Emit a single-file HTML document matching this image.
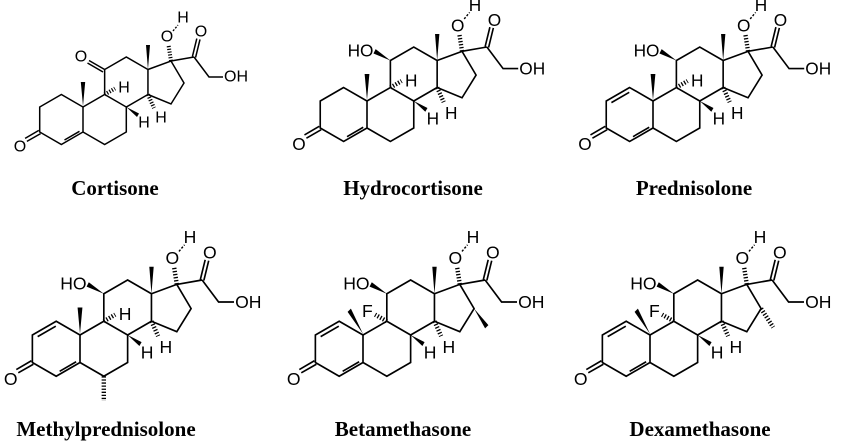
<!DOCTYPE html>
<html><head><meta charset="utf-8"><style>
html,body{margin:0;padding:0;background:#fff}
svg{display:block}
.b{fill:none;stroke:#000;stroke-width:1.5;stroke-linejoin:miter}
.h{stroke:#000;stroke-width:4;stroke-dasharray:1.2 1.6;fill:none}
.t{font-family:"Liberation Sans",sans-serif;font-size:16px;fill:#000;dominant-baseline:central}
.lab{font-family:"Liberation Serif",serif;font-weight:bold;font-size:21px;fill:#000;text-anchor:middle}
</style></head><body>
<svg width="850" height="442" viewBox="0 0 850 442" xmlns="http://www.w3.org/2000/svg">
<defs>
<g id="core">
<path class="b" d="M-21.65,-12.5 L-43.3,0 L-43.3,25 L-21.65,37.5 L0,25 L0,0 Z"/>
<path class="b" d="M0,25 L21.65,37.5 L43.3,25 L43.3,0 L21.65,-12.5 L0,0"/>
<path class="b" d="M21.65,-12.5 L21.65,-37.5 L43.3,-50 L64.95,-37.5 L64.95,-12.5 L43.3,0"/>
<path class="b" d="M64.95,-37.5 L88,-46 L101,-24 L88,-3 L64.95,-12.5"/>
<path class="b" d="M-18.5,33 L-3.5,24.3"/>
<path class="b" d="M-42.4,26.6 L-56.1,34.4 M-44.2,23.4 L-57.9,31.4"/>
<path class="b" d="M88,-46 L111,-50 M112.6,-49.6 L117,-67.6 M109.4,-50.4 L113.8,-68.4 M111,-50 L126,-30 L140,-30"/>
<line class="h" x1="88" y1="-46" x2="85.5" y2="-62"/>
<line x1="90" y1="-76" x2="95" y2="-82" stroke="#000" stroke-width="1.3" stroke-dasharray="2 1.5"/>
<polygon points="64.95,-37.5 63,-62 67,-62" fill="#000"/>
<polygon points="43.3,0 54,10 56,6.5" fill="#000"/>
<line class="h" x1="64.95" y1="-12.5" x2="71" y2="1"/>
</g>
<g id="m10"><polygon points="0,-1 -2.2,-25 2.2,-25" fill="#000"/></g>
<g id="h9"><line class="h" x1="21.65" y1="-12.5" x2="32" y2="-18.5"/></g>
<g id="oh11"><polygon points="21.65,-37.5 6,-44 8,-48" fill="#000"/></g>
<g id="d12"><path class="b" d="M-22,-8 L-38.5,1.5"/></g>
<g id="f9"><line class="h" x1="21.65" y1="-12.5" x2="11" y2="-18.5"/><polygon points="0,-1 -14,-21 -11,-24" fill="#000"/></g>
</defs>

<!-- Cortisone -->
<g transform="translate(83,107)">
<use href="#core"/><use href="#m10"/><use href="#h9"/>
<path class="b" d="M21.65,-37.5 L6,-46.5 M20,-35 L4.5,-44"/>
<text class="t" x="-2" y="-50" text-anchor="middle">O</text>
<text class="t" x="-63" y="40" text-anchor="middle">O</text>
<text class="t" x="118" y="-75" text-anchor="middle">O</text>
<text class="t" x="84" y="-70" text-anchor="middle">O</text>
<text class="t" x="100" y="-89" text-anchor="middle">H</text>
<text class="t" x="141" y="-30">OH</text>
<text class="t" x="41" y="-19" text-anchor="middle">H</text>
<text class="t" x="61" y="16" text-anchor="middle">H</text>
<text class="t" x="78" y="11" text-anchor="middle">H</text>
</g>
<text class="lab" x="115" y="195">Cortisone</text>

<!-- Hydrocortisone -->
<g transform="translate(367,101) scale(1.08)">
<use href="#core"/><use href="#m10"/><use href="#h9"/><use href="#oh11"/>
<text class="t" x="6" y="-47" text-anchor="end">HO</text>
<text class="t" x="-63" y="40" text-anchor="middle">O</text>
<text class="t" x="118" y="-75" text-anchor="middle">O</text>
<text class="t" x="84" y="-70" text-anchor="middle">O</text>
<text class="t" x="100" y="-89" text-anchor="middle">H</text>
<text class="t" x="141" y="-30">OH</text>
<text class="t" x="41" y="-19" text-anchor="middle">H</text>
<text class="t" x="61" y="16" text-anchor="middle">H</text>
<text class="t" x="78" y="11" text-anchor="middle">H</text>
</g>
<text class="lab" x="413" y="195">Hydrocortisone</text>

<!-- Prednisolone -->
<g transform="translate(653,101) scale(1.08)">
<use href="#core"/><use href="#m10"/><use href="#h9"/><use href="#oh11"/><use href="#d12"/>
<text class="t" x="6" y="-47" text-anchor="end">HO</text>
<text class="t" x="-63" y="40" text-anchor="middle">O</text>
<text class="t" x="118" y="-75" text-anchor="middle">O</text>
<text class="t" x="84" y="-70" text-anchor="middle">O</text>
<text class="t" x="100" y="-89" text-anchor="middle">H</text>
<text class="t" x="141" y="-30">OH</text>
<text class="t" x="41" y="-19" text-anchor="middle">H</text>
<text class="t" x="61" y="16" text-anchor="middle">H</text>
<text class="t" x="78" y="11" text-anchor="middle">H</text>
</g>
<text class="lab" x="694" y="195">Prednisolone</text>

<!-- Methylprednisolone -->
<g transform="translate(80,335) scale(1.1)">
<use href="#core"/><use href="#m10"/><use href="#h9"/><use href="#oh11"/><use href="#d12"/>
<line class="h" x1="21.65" y1="37.5" x2="21.65" y2="60"/>
<text class="t" x="6" y="-47" text-anchor="end">HO</text>
<text class="t" x="-63" y="40" text-anchor="middle">O</text>
<text class="t" x="118" y="-75" text-anchor="middle">O</text>
<text class="t" x="84" y="-70" text-anchor="middle">O</text>
<text class="t" x="100" y="-89" text-anchor="middle">H</text>
<text class="t" x="141" y="-30">OH</text>
<text class="t" x="41" y="-19" text-anchor="middle">H</text>
<text class="t" x="61" y="16" text-anchor="middle">H</text>
<text class="t" x="78" y="11" text-anchor="middle">H</text>
</g>
<text class="lab" x="106" y="436">Methylprednisolone</text>

<!-- Betamethasone -->
<g transform="translate(363,335) scale(1.1)">
<use href="#core"/><use href="#f9"/><use href="#oh11"/><use href="#d12"/>
<polygon points="101,-24 111,-6 114,-9" fill="#000"/>
<text class="t" x="4" y="-22" text-anchor="middle">F</text>
<text class="t" x="6" y="-47" text-anchor="end">HO</text>
<text class="t" x="-63" y="40" text-anchor="middle">O</text>
<text class="t" x="118" y="-75" text-anchor="middle">O</text>
<text class="t" x="84" y="-70" text-anchor="middle">O</text>
<text class="t" x="100" y="-89" text-anchor="middle">H</text>
<text class="t" x="141" y="-30">OH</text>
<text class="t" x="61" y="16" text-anchor="middle">H</text>
<text class="t" x="78" y="11" text-anchor="middle">H</text>
</g>
<text class="lab" x="403" y="436">Betamethasone</text>

<!-- Dexamethasone -->
<g transform="translate(650,335) scale(1.1)">
<use href="#core"/><use href="#f9"/><use href="#oh11"/><use href="#d12"/>
<line class="h" x1="101" y1="-24" x2="112" y2="-7"/>
<text class="t" x="4" y="-22" text-anchor="middle">F</text>
<text class="t" x="6" y="-47" text-anchor="end">HO</text>
<text class="t" x="-63" y="40" text-anchor="middle">O</text>
<text class="t" x="118" y="-75" text-anchor="middle">O</text>
<text class="t" x="84" y="-70" text-anchor="middle">O</text>
<text class="t" x="100" y="-89" text-anchor="middle">H</text>
<text class="t" x="141" y="-30">OH</text>
<text class="t" x="61" y="16" text-anchor="middle">H</text>
<text class="t" x="78" y="11" text-anchor="middle">H</text>
</g>
<text class="lab" x="700" y="436">Dexamethasone</text>
</svg>
</body></html>
